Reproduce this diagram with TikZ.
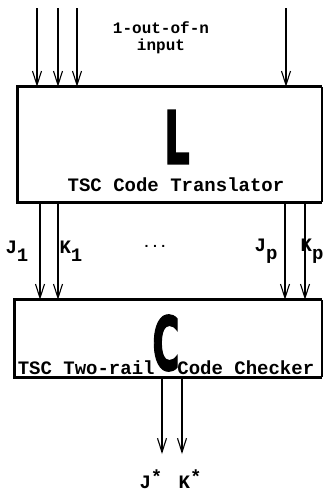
\documentclass[tikz,border=0pt]{standalone}
\usepackage{fontspec}
\setmonofont{Liberation Mono}
\newfontfamily\bigfont{DejaVu Sans Bold}[FakeBold=2.5]
\usetikzlibrary{arrows.meta}
\tikzset{
  arr/.style={line width=1.1pt,-{Straight Barb[length=14pt,width=9pt,line width=1.1pt]}},
  lbl/.style={inner sep=0pt,font=\ttfamily\bfseries\fontsize{19}{19}\selectfont},
  sml/.style={inner sep=0pt,font=\ttfamily\bfseries\fontsize{16}{17}\selectfont,align=center},
  boxnode/.style={draw=none,inner sep=0pt,minimum width=#1},
}
\begin{document}
\begin{tikzpicture}[x=1pt,y=-1pt]
\useasboundingbox (0,0) rectangle (324,491);
% boxes
\node[boxnode=304pt,minimum height=115pt] (L) at (170,144.5) {};
\node[boxnode=307pt,minimum height=77pt] (C) at (168.5,338.5) {};
\draw[line width=3.2pt,line cap=square] (L.north east) -- (L.north west) -- (L.south west) -- (L.south east);
\draw[line width=1.5pt] (L.north east) -- (L.south east);
\draw[line width=3.2pt,line cap=square] (C.north east) -- (C.north west) -- (C.south west) -- (C.south east);
\draw[line width=1.5pt] (C.north east) -- (C.south east);
% big letters
\node[inner sep=0pt] (bigL) at (177,137) {\scalebox{0.55}[1]{\bigfont\fontsize{73}{73}\selectfont L}};
\node[inner sep=0pt] (bigC) at (166,343) {\scalebox{0.5}[1]{\bigfont\fontsize{74}{74}\selectfont C}};
% box texts
\node[lbl] (tL) at (176,185) {TSC Code Translator};
\node[lbl] (tC) at (166,367.5) {TSC Two-rail\ \ Code Checker};
% input
\node[sml] (inp) at (161,38) {1-out-of-n\\input};
\coordinate (i1) at (37,8);
\coordinate (i2) at (58,8);
\coordinate (i3) at (77,8);
\coordinate (i4) at (286,8);
\foreach \c in {i1,i2,i3,i4} \draw[arr] (\c) -- (\c |- L.north);
% middle arrows
\coordinate (m1) at (40,0);
\coordinate (m2) at (58,0);
\coordinate (m3) at (285,0);
\coordinate (m4) at (305,0);
\foreach \c in {m1,m2,m3,m4} \draw[arr] (\c |- L.south) -- (\c |- C.north);
% middle labels
\node[lbl] (J1) at (17,251) {J\raisebox{-8pt}{1}};
\node[lbl] (K1) at (71,251) {K\raisebox{-8pt}{1}};
\node[inner sep=0pt,font=\ttfamily\bfseries\fontsize{14}{14}\selectfont] (dots) at (155,246) {...};
\node[lbl] (Jp) at (266,251) {J\raisebox{-8pt}{p}};
\node[lbl] (Kp) at (312,251) {K\raisebox{-8pt}{p}};
% outputs
\coordinate (o1) at (162,454);
\coordinate (o2) at (182,454);
\draw[arr] (o1 |- C.south) -- (o1);
\draw[arr] (o2 |- C.south) -- (o2);
\node[lbl] (Js) at (151,479) {J\raisebox{5pt}{*}};
\node[lbl] (Ks) at (190,479) {K\raisebox{5pt}{*}};
\end{tikzpicture}
\end{document}
